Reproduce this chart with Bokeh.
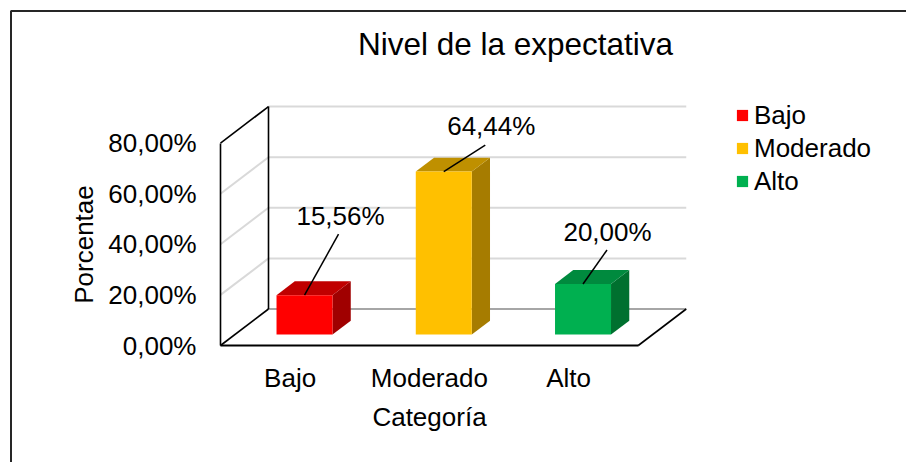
from bokeh.plotting import figure
from bokeh.models import Range1d, LinearAxis, FixedTicker, Legend, LegendItem
from bokeh.core.properties import value
from bokeh.embed import file_html
from bokeh.resources import INLINE

# ---------------- data ----------------
categories = ["Bajo", "Moderado", "Alto"]
percentages = [15.56, 64.44, 20.00]
value_labels = ["15,56%", "64,44%", "20,00%"]
y_ticks = [0, 20, 40, 60, 80]
y_tick_labels = ["0,00%", "20,00%", "40,00%", "60,00%", "80,00%"]
title_text = "Nivel de la expectativa"
y_title = "Porcentae"
x_title = "Categoría"

# ---------------- style ----------------
front_colors = ["#FF0000", "#FFC000", "#00B050"]
top_colors = ["#C00000", "#BF9000", "#008A3E"]
side_colors = ["#A00000", "#A67C00", "#00702F"]
FONT = value("Liberation Sans")

W, H = 906, 462
PX0, PY0 = 220.0, 345.0          # front axis origin (px)
CAT_PX = 139.25                  # px per category
PCT_PX = 2.53                    # px per percent
DEPTH_PX = (48.0, 36.5)          # back-wall offset in px
Z0, DZ = 0.30, 0.38              # bar front depth and bar depth (fraction)
BAR_PX = 56.0
YMAX = 80
NCAT = len(categories)

# label offsets (px) from bar front-top centre, and leader start offsets from label centre
label_off_px = [(36, -79), (47.5, -45.5), (24.5, -52)]
leader_off_px = [(-2, 18), (-6, 19), (-0.5, 18)]


def dx(px):
    return px / CAT_PX


def dy(py):
    return -py / PCT_PX


def fx(px):
    return (px - PX0) / CAT_PX


def fy(py):
    return (PY0 - py) / PCT_PX


DX = dx(DEPTH_PX[0])
DY = DEPTH_PX[1] / PCT_PX

p = figure(width=W, height=H,
           x_range=Range1d(fx(0), fx(W)), y_range=Range1d(fy(H), fy(0)),
           output_backend="svg", toolbar_location=None,
           x_axis_location=None, y_axis_location=None, min_border=0)
p.outline_line_color = None
p.background_fill_color = "white"
p.border_fill_color = "white"
p.grid.visible = False

# chart border (top and left)
p.line([fx(10.5), fx(10.5), fx(W + 20)], [fy(H + 20), fy(10.5), fy(10.5)],
       line_color="#262626", line_width=2)

# back wall grid lines
grid_levels = [t for t in y_ticks if t > 0]
p.multi_line([[DX, NCAT + DX] for t in grid_levels],
             [[t + DY, t + DY] for t in grid_levels],
             line_color="#D9D9D9", line_width=2)
# side wall grid lines
side_levels = [t for t in y_ticks if 0 < t < YMAX]
p.multi_line([[0, DX] for t in side_levels],
             [[t, t + DY] for t in side_levels],
             line_color="#D9D9D9", line_width=2)
# floor back edge
p.line([DX, NCAT + DX], [DY, DY], line_color="#A6A6A6", line_width=2)

# black frame edges
p.multi_line(
    [[0, DX], [DX, DX], [0, DX], [NCAT, NCAT + DX]],
    [[YMAX, YMAX + DY], [DY, YMAX + DY], [0, DY], [0, DY]],
    line_color="black", line_width=1.6)

# bars
BW = dx(BAR_PX)
xc = [i + 0.5 + Z0 * DX for i in range(NCAT)]
yb = Z0 * DY
yt = [v + Z0 * DY for v in percentages]
ddx, ddy = DZ * DX, DZ * DY

side_xs, side_ys, top_xs, top_ys = [], [], [], []
for c, t in zip(xc, yt):
    xl, xr = c - BW / 2, c + BW / 2
    side_xs.append([xr, xr + ddx, xr + ddx, xr])
    side_ys.append([yb, yb + ddy, t + ddy, t])
    top_xs.append([xl, xr, xr + ddx, xl + ddx])
    top_ys.append([t, t, t + ddy, t + ddy])

p.patches(side_xs, side_ys, fill_color=side_colors, line_color=None)
p.patches(top_xs, top_ys, fill_color=top_colors, line_color=None)
front = p.vbar(x=xc, width=BW, bottom=yb, top=yt, fill_color=front_colors, line_color=None)

# data labels + leader lines
lab_x = [c + dx(o[0]) for c, o in zip(xc, label_off_px)]
lab_y = [t + dy(o[1]) for t, o in zip(yt, label_off_px)]
lead_xs = [[lx + dx(o[0]), c] for lx, c, o in zip(lab_x, xc, leader_off_px)]
lead_ys = [[ly + dy(o[1]), t] for ly, t, o in zip(lab_y, yt, leader_off_px)]
p.multi_line(lead_xs, lead_ys, line_color="black", line_width=1.5)
p.text(lab_x, lab_y, text=value_labels, text_align="center", text_baseline="middle",
       text_font=FONT, text_font_size="26px", text_color="black")

# title
p.text([fx(515)], [fy(43)], text=[title_text], text_align="center", text_baseline="middle",
       text_font=FONT, text_font_size="31.5px", text_color="black")

# y axis (front left edge)
yaxis = LinearAxis(fixed_location=0, bounds=(0, YMAX),
                   ticker=FixedTicker(ticks=y_ticks),
                   major_label_overrides=dict(zip(y_ticks, y_tick_labels)),
                   axis_label=y_title)
yaxis.axis_line_color = "black"
yaxis.axis_line_width = 1.6
yaxis.major_tick_out = 0
yaxis.major_tick_in = 0
yaxis.minor_tick_out = 0
yaxis.minor_tick_in = 0
yaxis.major_label_standoff = 24
yaxis.major_label_text_font = "Liberation Sans"
yaxis.major_label_text_font_size = "26px"
yaxis.major_label_text_color = "black"
yaxis.axis_label_text_font = "Liberation Sans"
yaxis.axis_label_text_font_size = "26px"
yaxis.axis_label_text_font_style = "normal"
yaxis.axis_label_text_color = "black"
yaxis.axis_label_standoff = 6
p.add_layout(yaxis, "left")

# x axis (front floor edge)
x_ticks = [i + 0.5 for i in range(NCAT)]
xaxis = LinearAxis(fixed_location=0, bounds=(0, NCAT),
                   ticker=FixedTicker(ticks=x_ticks),
                   major_label_overrides=dict(zip(x_ticks, categories)),
                   axis_label=x_title)
xaxis.axis_line_color = "black"
xaxis.axis_line_width = 2
xaxis.major_tick_out = 0
xaxis.major_tick_in = 0
xaxis.minor_tick_out = 0
xaxis.minor_tick_in = 0
xaxis.major_label_standoff = 17
xaxis.major_label_text_font = "Liberation Sans"
xaxis.major_label_text_font_size = "26px"
xaxis.major_label_text_color = "black"
xaxis.axis_label_text_font = "Liberation Sans"
xaxis.axis_label_text_font_size = "26px"
xaxis.axis_label_text_font_style = "normal"
xaxis.axis_label_text_color = "black"
xaxis.axis_label_standoff = 6
p.add_layout(xaxis, "below")

# legend
legend = Legend(items=[LegendItem(label=c, renderers=[front], index=i)
                       for i, c in enumerate(categories)],
                location=(735, 264.5), orientation="vertical",
                glyph_width=14, glyph_height=14, label_standoff=5,
                label_height=33, spacing=0, padding=0, margin=0,
                label_text_font="Liberation Sans", label_text_font_size="26px",
                label_text_color="black",
                border_line_color=None, background_fill_alpha=0)
p.add_layout(legend)

open("out.html", "w").write(file_html(p, INLINE))
